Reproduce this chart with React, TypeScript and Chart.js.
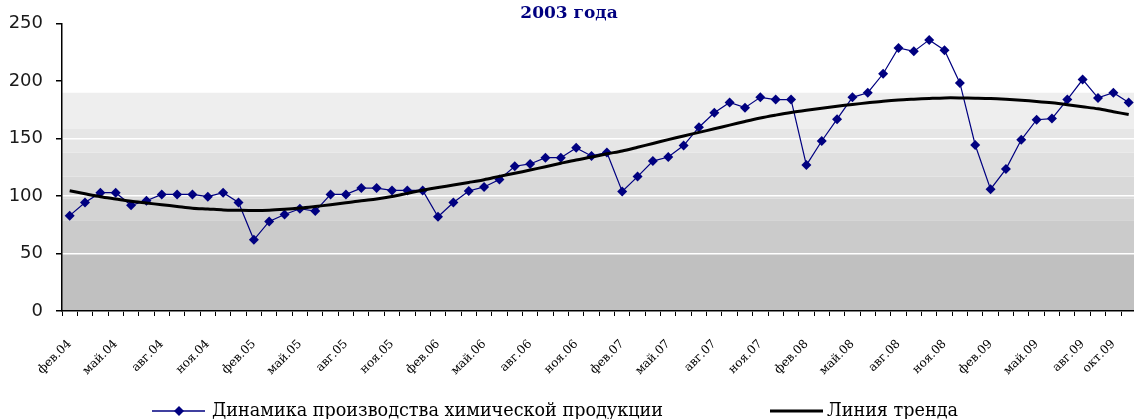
import React, { useEffect, useRef } from 'react';
import { Chart, registerables } from 'chart.js';

Chart.register(...registerables);

const categories: string[] = [
  'фев.04', 'мар.04', 'апр.04', 'май.04', 'июн.04', 'июл.04', 'авг.04', 'сен.04', 'окт.04', 'ноя.04', 'дек.04',
  'янв.05', 'фев.05', 'мар.05', 'апр.05', 'май.05', 'июн.05', 'июл.05', 'авг.05', 'сен.05', 'окт.05', 'ноя.05', 'дек.05',
  'янв.06', 'фев.06', 'мар.06', 'апр.06', 'май.06', 'июн.06', 'июл.06', 'авг.06', 'сен.06', 'окт.06', 'ноя.06', 'дек.06',
  'янв.07', 'фев.07', 'мар.07', 'апр.07', 'май.07', 'июн.07', 'июл.07', 'авг.07', 'сен.07', 'окт.07', 'ноя.07', 'дек.07',
  'янв.08', 'фев.08', 'мар.08', 'апр.08', 'май.08', 'июн.08', 'июл.08', 'авг.08', 'сен.08', 'окт.08', 'ноя.08', 'дек.08',
  'янв.09', 'фев.09', 'мар.09', 'апр.09', 'май.09', 'июн.09', 'июл.09', 'авг.09', 'сен.09', 'окт.09', 'ноя.09',
];

const production: number[] = [
  83, 94.5, 103, 103, 92, 96, 101.5, 101.5, 101.5, 99.5,
  103, 94.5, 62, 78, 84, 89, 87, 101.5, 101.5, 107,
  107, 105, 105, 105, 82, 94.5, 104.5, 108, 114.5, 126,
  128, 133.5, 133.5, 142, 135, 138, 104, 117, 130.5, 134,
  144, 160, 172.5, 181.5, 177, 186, 184, 184, 127, 148,
  167, 186, 190, 206.5, 229, 226, 236, 227, 198.5, 144.5,
  106, 123.5, 149, 166.5, 167.5, 184, 201.5, 185.5, 190, 181.5,
];

const trend: number[] = [
  104.6, 102, 99.5, 97.5, 95.5, 94, 92.5, 91, 89.5, 88.8,
  88, 87.7, 87.5, 87.7, 88.5, 89.6, 91, 92.5, 94.2, 96,
  97.5, 99.6, 102.4, 105.1, 107.5, 109.6, 111.9, 114.3, 117.2, 119.9,
  122.7, 125.6, 128.6, 131.5, 134, 136.8, 139.3, 142.5, 145.8, 149.2,
  152.4, 155.5, 158.6, 161.8, 165, 168, 170.5, 172.8, 174.7, 176.4,
  178.2, 179.8, 181.2, 182.6, 183.7, 184.4, 185, 185.5, 185.5, 185.3,
  185, 184.3, 183.4, 182.4, 181.2, 179.6, 177.8, 176, 173.5, 171,
];

const yTicks: number[] = [0, 50, 100, 150, 200, 250];

const titleText = '2003 года';
const seriesName = 'Динамика производства химической продукции';
const trendName = 'Линия тренда';

const NAVY = '#000080';

const bandEdges = [0, 50, 79, 98, 117, 138, 159, 190];
const bandColors = ['#c0c0c0', '#cbcbcb', '#d3d3d3', '#d9d9d9', '#dfdfdf', '#e6e6e6', '#eeeeee'];

const bandsPlugin = {
  id: 'bands',
  beforeDraw(chart: any) {
    const { ctx, chartArea, scales } = chart;
    const y = scales.y;
    ctx.save();
    for (let i = 0; i < bandColors.length; i++) {
      const top = y.getPixelForValue(bandEdges[i + 1]);
      const bottom = y.getPixelForValue(bandEdges[i]);
      ctx.fillStyle = bandColors[i];
      ctx.fillRect(chartArea.left, top, chartArea.right - chartArea.left, bottom - top);
    }
    ctx.restore();
  },
};

const decorPlugin = {
  id: 'decor',
  afterDraw(chart: any) {
    const { ctx } = chart;
    ctx.save();
    // title
    ctx.fillStyle = NAVY;
    ctx.font = 'bold 17px "DejaVu Serif"';
    ctx.textAlign = 'center';
    ctx.textBaseline = 'alphabetic';
    ctx.fillText(titleText, 569, 18);

    // legend
    const ly = 411;
    ctx.strokeStyle = NAVY;
    ctx.lineWidth = 1.5;
    ctx.beginPath();
    ctx.moveTo(152, ly);
    ctx.lineTo(205, ly);
    ctx.stroke();
    ctx.fillStyle = NAVY;
    ctx.beginPath();
    ctx.moveTo(179, ly - 5);
    ctx.lineTo(184, ly);
    ctx.lineTo(179, ly + 5);
    ctx.lineTo(174, ly);
    ctx.closePath();
    ctx.fill();

    ctx.fillStyle = '#000';
    ctx.font = '17.6px "DejaVu Serif"';
    ctx.textAlign = 'left';
    ctx.textBaseline = 'middle';
    ctx.fillText(seriesName, 212, ly);

    ctx.strokeStyle = '#000';
    ctx.lineWidth = 3;
    ctx.beginPath();
    ctx.moveTo(770, ly);
    ctx.lineTo(823, ly);
    ctx.stroke();
    ctx.fillText(trendName, 827, ly);
    ctx.restore();
  },
};

export default function App() {
  const canvasRef = useRef<HTMLCanvasElement | null>(null);

  useEffect(() => {
    const canvas = canvasRef.current;
    if (!canvas) return;
    const chart = new Chart(canvas, {
      type: 'line',
      data: {
        labels: categories,
        datasets: [
          {
            label: trendName,
            data: trend,
            borderColor: '#000',
            borderWidth: 3,
            pointRadius: 0,
            fill: false,
            tension: 0.3,
            order: 0,
          },
          {
            label: seriesName,
            data: production,
            borderColor: NAVY,
            borderWidth: 1.2,
            pointStyle: 'rectRot',
            pointRadius: 5,
            pointBackgroundColor: NAVY,
            pointBorderColor: NAVY,
            pointBorderWidth: 0,
            fill: false,
            tension: 0,
            order: 1,
          },
        ],
      },
      options: {
        responsive: false,
        animation: false,
        layout: { padding: { top: 10.7, right: 16.5, bottom: 40, left: 0 } },
        plugins: {
          legend: { display: false },
          title: { display: false },
          tooltip: { enabled: false },
        },
        scales: {
          x: {
            type: 'category',
            offset: true,
            afterFit: (s: any) => { s.height = 68; },
            grid: {
              offset: true,
              drawOnChartArea: false,
              tickColor: '#000',
              tickLength: 5,
              lineWidth: 1,
            },
            border: { color: '#000', width: 1.5 },
            ticks: {
              autoSkip: false,
              maxRotation: 45,
              minRotation: 45,
              padding: 21,
              color: '#000',
              font: { family: '"DejaVu Serif"', size: 12 },
              callback: (_v: any, index: number) =>
                (index % 3 === 0 && index < categories.length - 1) || index === categories.length - 2
                  ? categories[index]
                  : '',
            },
          },
          y: {
            min: 0,
            max: 250,
            afterFit: (s: any) => { s.width = 62; },
            afterBuildTicks: (s: any) => { s.ticks = yTicks.map((v) => ({ value: v })); },
            grid: {
              color: '#ffffff',
              lineWidth: 1.5,
              tickColor: '#000',
              tickLength: 6,
            },
            border: { color: '#000', width: 1.5 },
            ticks: {
              padding: 13,
              color: '#1a1a1a',
              font: { family: '"DejaVu Sans"', size: 18 },
            },
          },
        },
      },
      plugins: [bandsPlugin, decorPlugin],
    });
    return () => chart.destroy();
  }, []);

  return (
    <div style={{ position: 'absolute', left: 0, top: 0, width: 1134, height: 419, overflow: 'hidden', background: '#fff' }}>
      <canvas ref={canvasRef} width={1160} height={419} style={{ display: 'block' }} />
    </div>
  );
}
